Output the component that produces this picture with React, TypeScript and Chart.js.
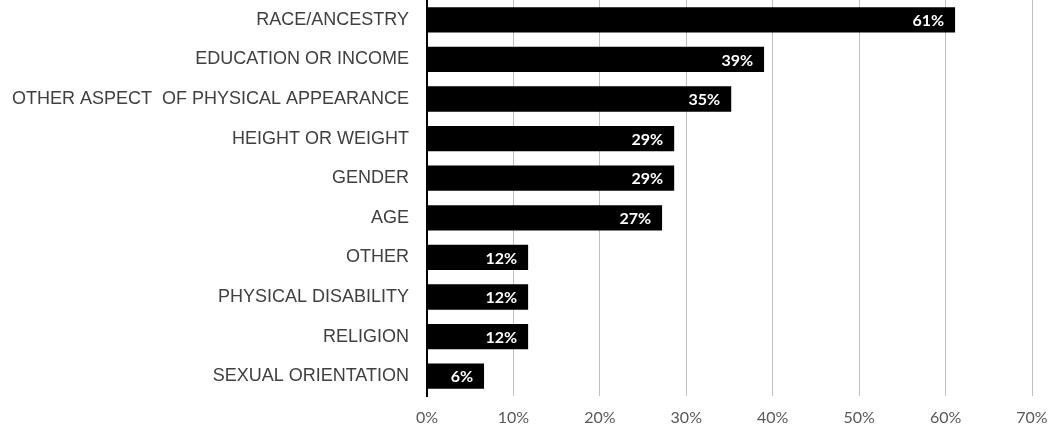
import React, { useEffect, useRef } from "react";
import { Chart, registerables } from "chart.js";

Chart.register(...registerables);

const categories = [
  "RACE/ANCESTRY",
  "EDUCATION OR INCOME",
  "OTHER ASPECT  OF PHYSICAL APPEARANCE",
  "HEIGHT OR WEIGHT",
  "GENDER",
  "AGE",
  "OTHER",
  "PHYSICAL DISABILITY",
  "RELIGION",
  "SEXUAL ORIENTATION",
];
const values = [61.1, 39.0, 35.2, 28.6, 28.6, 27.2, 11.7, 11.7, 11.7, 6.6];
const valueLabels = ["61%", "39%", "35%", "29%", "29%", "27%", "12%", "12%", "12%", "6%"];
const xTicks = [0, 10, 20, 30, 40, 50, 60, 70];

const barLabelPlugin = {
  id: "barLabels",
  afterDatasetsDraw(chart: any) {
    const ctx = chart.ctx;
    const meta = chart.getDatasetMeta(0);
    ctx.save();
    ctx.fillStyle = "#ffffff";
    ctx.font = "bold 16px Lato, 'Open Sans', sans-serif";
    ctx.textAlign = "right";
    ctx.textBaseline = "middle";
    meta.data.forEach((bar: any, i: number) => {
      ctx.fillText(valueLabels[i], bar.x - 11, bar.y + 1);
    });
    ctx.restore();
  },
};

export default function App() {
  const ref = useRef<HTMLCanvasElement | null>(null);
  useEffect(() => {
    if (!ref.current) return;
    const chart = new Chart(ref.current, {
      type: "bar",
      data: {
        labels: categories,
        datasets: [
          {
            data: values,
            backgroundColor: "#000000",
            borderWidth: 0,
            barPercentage: 0.64,
            categoryPercentage: 1,
          },
        ],
      },
      options: {
        indexAxis: "y",
        animation: false,
        responsive: false,
        maintainAspectRatio: false,
        layout: { padding: 0 },
        plugins: {
          legend: { display: false },
          tooltip: { enabled: false },
        },
        scales: {
          x: {
            min: 0,
            max: 70,
            afterBuildTicks: (scale: any) => {
              scale.ticks = xTicks.map((v) => ({ value: v }));
            },
            afterFit: (scale: any) => {
              scale.height = 29;
              scale.paddingLeft = 0;
              scale.paddingRight = 18;
            },
            grid: {
              color: (c: any) => (c.index === 0 ? "rgba(0,0,0,0)" : "#bfbfbf"),
              lineWidth: 1,
              drawTicks: false,
            },
            border: { display: false },
            ticks: {
              padding: 12,
              color: "#595959",
              font: { family: "Lato, 'Open Sans', sans-serif", size: 16 },
              callback: (v: any) => v + "%",
            },
          },
          y: {
            afterFit: (scale: any) => {
              scale.width = 427;
              scale.paddingTop = 0;
              scale.paddingBottom = 0;
            },
            grid: { display: false, drawTicks: false },
            border: { display: true, color: "#000000", width: 2 },
            ticks: {
              padding: 18,
              color: "#404040",
              font: { family: "'Liberation Sans', Arial, sans-serif", size: 18 },
            },
          },
        },
      },
      plugins: [barLabelPlugin],
    });
    return () => chart.destroy();
  }, []);
  return (
    <div style={{ position: "fixed", left: 0, top: 0, width: 1050, height: 425, background: "#fff" }}>
      <canvas ref={ref} width={1050} height={425} style={{ width: 1050, height: 425 }} />
    </div>
  );
}
